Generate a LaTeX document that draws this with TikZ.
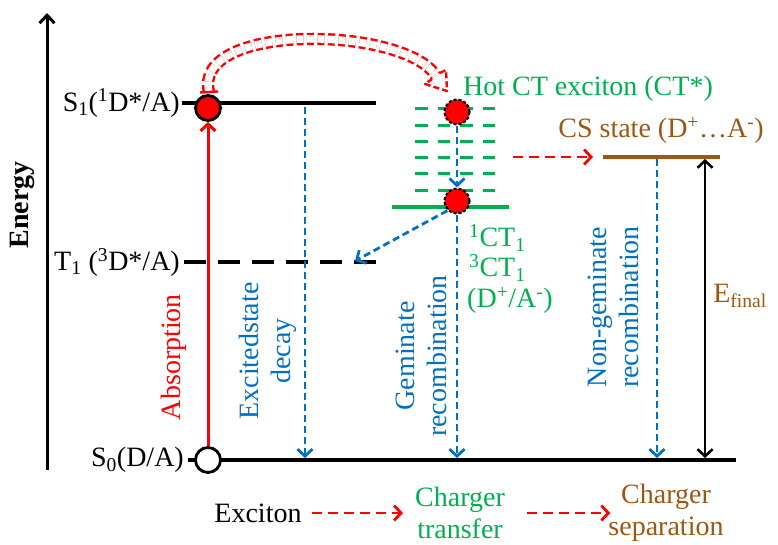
\documentclass[tikz,border=0pt]{standalone}
\usepackage{fontspec}
\setmainfont{Liberation Serif}
\usetikzlibrary{arrows.meta}
\definecolor{cred}{RGB}{255,0,0}
\definecolor{cblue}{RGB}{0,112,192}
\definecolor{cgreen}{RGB}{0,176,80}
\definecolor{cbrown}{RGB}{156,87,20}
\newcommand\sbs[1]{\textsubscript{#1}}
\newcommand\sps[1]{\textsuperscript{#1}}
\begin{document}
\begin{tikzpicture}[x=1pt,y=-1pt,
  every node/.style={font=\fontsize{28}{32}\selectfont, inner sep=0pt},
  lvl/.style={line width=3.8pt},
  barb/.style={-{Straight Barb[length=7pt,width=15pt]}},
  bluedash/.style={cblue, line width=2.8pt, dash pattern=on 7pt off 4pt, barb},
  reddash/.style={cred, line width=2.8pt, dash pattern=on 10pt off 6pt, barb},
  gdash/.style={cgreen, line width=3pt, dash pattern=on 12.5pt off 10pt},
  dot/.style={circle, draw=black, line width=2.8pt, minimum size=25pt},
  hotdot/.style={circle, draw=black, fill=cred, line width=2.2pt, dash pattern=on 3pt off 2pt, minimum size=25pt}]
\useasboundingbox (0,0) rectangle (778,544);

% energy axis
\coordinate (axb) at (47,470);
\coordinate (axt) at (47,13);
\draw[line width=3pt,-{Straight Barb[length=8pt,width=15pt]}] (axb) -- (axt);
\node[rotate=90, font=\fontsize{28}{32}\selectfont\bfseries] (en) at (22,205) {Energy};

% S1 level
\node[anchor=east] (s1l) at (180,103) {S\sbs{1}(\sps{1}D*/A)};
\coordinate (s1b) at (376,103);
\draw[lvl] ([xshift=2pt]s1l.east |- s1b) -- (s1b);

% T1 level
\node[anchor=east] (t1l) at (180,262) {T\sbs{1} (\sps{3}D*/A)};
\coordinate (t1b) at (382,262);
\draw[lvl, dash pattern=on 22pt off 12pt] ([xshift=4pt]t1l.east |- t1b) -- (t1b);

% S0 level
\node[anchor=east] (s0l) at (184,460) {S\sbs{0}(D/A)};
\coordinate (s0b) at (736,460);
\draw[line width=4pt] ([xshift=4pt]s0l.east |- s0b) -- (s0b);

% circles on S1 and S0
\node[dot, fill=cred] (c1) at (208,108) {};
\node[dot, fill=white] (c0) at (208,460) {};
\draw[cred, line width=3pt, -{Straight Barb[length=7pt,width=15pt]}] (c0) -- (c1);
\node[cred, rotate=90] (abs) at (174,357) {Absorption};

% excited state decay
\coordinate (d1) at (305,107);
\coordinate (d2) at (305,458);
\draw[bluedash] (d1) -- (d2);
\node[cblue, rotate=90, align=center] (esd) at (268,351) {Excitedstate\\decay};

% hot CT manifold
\foreach \yy in {108,125,141,157,173,190} \draw[gdash] (415,\yy) -- (495,\yy);
\coordinate (ct1a) at (392,207);
\coordinate (ct1b) at (509,207);
\draw[cgreen, line width=4pt] (ct1a) -- (ct1b);
\node[hotdot] (h1) at (457,112) {};
\node[hotdot] (h2) at (457,201) {};
\draw[bluedash] (h1) -- (h2);
\coordinate (g0) at (457,458);
\draw[bluedash] (h2) -- (g0);
\coordinate (t1e) at (355,261);
\draw[bluedash] (h2.225) -- (t1e);
\node[cblue, rotate=90, align=center] (gem) at (421,356) {Geminate\\recombination};

\node[cgreen, anchor=west] (hot) at (463,89) {Hot CT exciton (CT*)};
\node[cgreen, anchor=west] (ct1) at (469,238) {\sps{1}CT\sbs{1}};
\node[cgreen, anchor=west] (ct3) at (469,268) {\sps{3}CT\sbs{1}};
\node[cgreen, anchor=west] (ctd) at (467,300) {(D\sps{+}/A\sps{-})};

% hollow curved arrow S1 -> hot CT
\draw[cred, line width=2.4pt, double=white, double distance=7.5pt, dash pattern=on 7pt off 3.5pt]
  (209,92) .. controls (192,22) and (405,26) .. (436,76);
\draw[cred, line width=2.4pt, dash pattern=on 6pt off 3pt, line join=round]
  (440.0,73.0) -- (446,70) -- (447,91) -- (425,84) -- (432.0,79.0);
\draw[cred, line width=2.4pt] (200,92.5) -- (218,91.5);

% CS state
\node[cbrown] (csl) at (661,130) {CS state (D\sps{+}…A\sps{-})};
\coordinate (csa) at (603,157);
\coordinate (csb) at (720,157);
\draw[cbrown, line width=4pt] (csa) -- (csb);
\coordinate (rda) at (513,157);
\draw[reddash] (rda) -- ([xshift=-10pt]csa);
\coordinate (ng1) at (657,159);
\coordinate (ng2) at (657,458);
\draw[bluedash] (ng1) -- (ng2);
\node[cblue, rotate=90, align=center] (ngr) at (613,307) {Non-geminate\\recombination};

% E final
\coordinate (ef1) at (705,159);
\coordinate (ef2) at (705,458);
\draw[line width=2.6pt, {Straight Barb[length=7pt,width=15pt]}-{Straight Barb[length=7pt,width=15pt]}] (ef1) -- (ef2);
\node[cbrown] (efl) at (740,296) {E\sbs{final}};

% legend
\node (ex) at (258,513) {Exciton};
\node[cgreen, align=center] (ctr) at (460,513) {Charger\\transfer};
\node[cbrown, align=center] (csp) at (666,513) {Charger\\separation};
\draw[reddash] ([xshift=10pt]ex.east) -- ([xshift=-12pt]ctr.west);
\draw[reddash] ([xshift=22pt]ctr.east) -- ([xshift=2pt]csp.west);
\end{tikzpicture}
\end{document}
